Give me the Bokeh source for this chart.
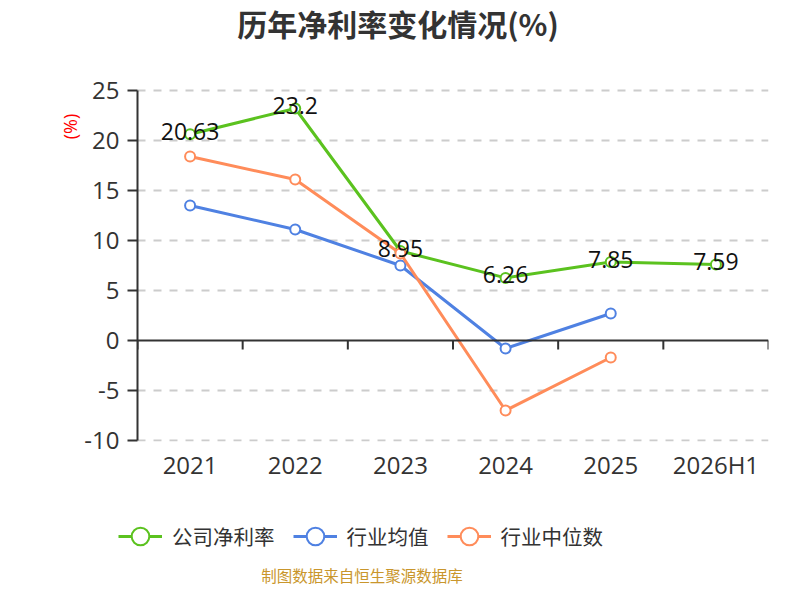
from bokeh.plotting import figure
from bokeh.layouts import row, column
from bokeh.models import (Range1d, FixedTicker, Span, Label, Legend, LegendItem, ColumnDataSource)
from bokeh.core.properties import value
from bokeh.embed import file_html
from bokeh.resources import INLINE
import math

categories = ["2021", "2022", "2023", "2024", "2025", "2026H1"]
company = [20.63, 23.2, 8.95, 6.26, 7.85, 7.59]
industry_avg = [13.5, 11.1, 7.5, -0.8, 2.7]
industry_median = [18.4, 16.1, 8.7, -7.0, -1.7]
y_ticks = [-10, -5, 0, 5, 10, 15, 20, 25]
series_names = ["公司净利率", "行业均值", "行业中位数"]

GREEN = "#5BC21F"
BLUE = "#4F81E2"
ORANGE = "#FF8C5A"
NUM_FONT = "Open Sans"
CJK_FONT = "Noto Sans CJK SC"

xs = [i + 0.5 for i in range(len(categories))]

# ---------------- main chart ----------------
p = figure(width=702, height=490, output_backend="svg", toolbar_location=None,
           x_range=Range1d(0, len(categories)), y_range=Range1d(-10.1, 34.0),
           min_border_left=54, min_border_right=15, min_border_top=0, min_border_bottom=49)
p.outline_line_color = None

p.xaxis.ticker = FixedTicker(ticks=xs)
p.xaxis.major_label_overrides = {x: c for x, c in zip(xs, categories)}
p.xaxis.axis_line_color = None
p.xaxis.major_tick_line_color = None
p.xaxis.minor_tick_line_color = None
p.xaxis.major_tick_out = 0
p.xaxis.major_label_standoff = 6
p.xaxis.major_label_text_font = NUM_FONT
p.xaxis.major_label_text_font_size = "24px"
p.xaxis.major_label_text_color = "#333333"

p.yaxis.ticker = FixedTicker(ticks=y_ticks)
p.yaxis.bounds = (-10, 25)
p.yaxis.major_label_overrides = {t: str(t) for t in y_ticks}
p.yaxis.axis_line_color = "#333333"
p.yaxis.axis_line_width = 2
p.yaxis.major_tick_line_color = "#333333"
p.yaxis.major_tick_line_width = 2
p.yaxis.major_tick_out = 10
p.yaxis.major_tick_in = 0
p.yaxis.minor_tick_line_color = None
p.yaxis.major_label_standoff = 8
p.yaxis.major_label_text_font = NUM_FONT
p.yaxis.major_label_text_font_size = "24px"
p.yaxis.major_label_text_color = "#333333"

p.xgrid.grid_line_color = None
p.ygrid.ticker = FixedTicker(ticks=[t for t in y_ticks if t != 0])
p.ygrid.grid_line_color = "#cccccc"
p.ygrid.grid_line_width = 2
p.ygrid.grid_line_dash = "8 8"

# zero axis line with category boundary ticks
p.add_layout(Span(location=0, dimension="width", line_color="#333333", line_width=2))
bounds = list(range(len(categories) + 1))
p.segment(x0=bounds, y0=[0] * len(bounds), x1=bounds, y1=[-0.9] * len(bounds),
          line_color="#333333", line_width=2)

def series(fig, vals, color):
    n = len(vals)
    src = ColumnDataSource(dict(x=xs[:n], y=vals))
    lr = fig.line("x", "y", source=src, line_color=color, line_width=3)
    sr = fig.scatter("x", "y", source=src, size=10, marker="circle", fill_color="white",
                     line_color=color, line_width=2)
    return [lr, sr]

series(p, company, GREEN)
series(p, industry_avg, BLUE)
series(p, industry_median, ORANGE)

lab_src = ColumnDataSource(dict(x=xs, y=company, t=[f"{v:g}" for v in company]))
p.text("x", "y", text="t", source=lab_src, text_align="center", text_baseline="middle",
       y_offset=-3, text_font=value(NUM_FONT), text_font_size="23px", text_color="#111111")

p.add_layout(Label(x=260.5, y=418.5, x_units="screen", y_units="screen", text="历年净利率变化情况(%)",
                   text_align="center", text_baseline="middle", text_font=CJK_FONT,
                   text_font_size="30px", text_font_style="bold", text_color="#333333"))

# ---------------- unit label strip (left) ----------------
pl = figure(width=81, height=490, output_backend="svg", toolbar_location=None,
            x_axis_type=None, y_axis_type=None, min_border=0,
            x_range=Range1d(0, 1), y_range=Range1d(0, 1))
pl.outline_line_color = None
pl.add_layout(Label(x=69.5, y=315, x_units="screen", y_units="screen", text="(%)",
                    angle=math.pi / 2, text_align="center", text_baseline="middle",
                    text_font=NUM_FONT, text_font_size="18px", text_color="#ff0000"))

# ---------------- legend + source strip (bottom) ----------------
pb = figure(width=784, height=94, output_backend="svg", toolbar_location=None,
            x_axis_type=None, y_axis_type=None, min_border=0,
            x_range=Range1d(0, len(categories)), y_range=Range1d(1000, 1001))
pb.outline_line_color = None
# legend proxies: same series, outside the visible range of this strip
rg = series(pb, company, GREEN)
rb = series(pb, industry_avg, BLUE)
ro = series(pb, industry_median, ORANGE)
legend = Legend(items=[LegendItem(label=series_names[0], renderers=rg),
                       LegendItem(label=series_names[1], renderers=rb),
                       LegendItem(label=series_names[2], renderers=ro)],
                orientation="horizontal", location=(118, 26),
                glyph_width=44, glyph_height=44, label_standoff=10, spacing=18,
                padding=0, margin=0, border_line_color=None, background_fill_alpha=0,
                label_text_font=CJK_FONT, label_text_font_size="20.5px",
                label_text_color="#333333")
pb.add_layout(legend, "center")
pb.add_layout(Label(x=361.5, y=10, x_units="screen", y_units="screen", text="制图数据来自恒生聚源数据库",
                    text_align="center", text_baseline="middle", text_font=CJK_FONT,
                    text_font_size="15.5px", text_color="#C9962C"))

layout = column(row(pl, p, spacing=0), pb, spacing=0)
open("out.html", "w").write(file_html(layout, INLINE))
